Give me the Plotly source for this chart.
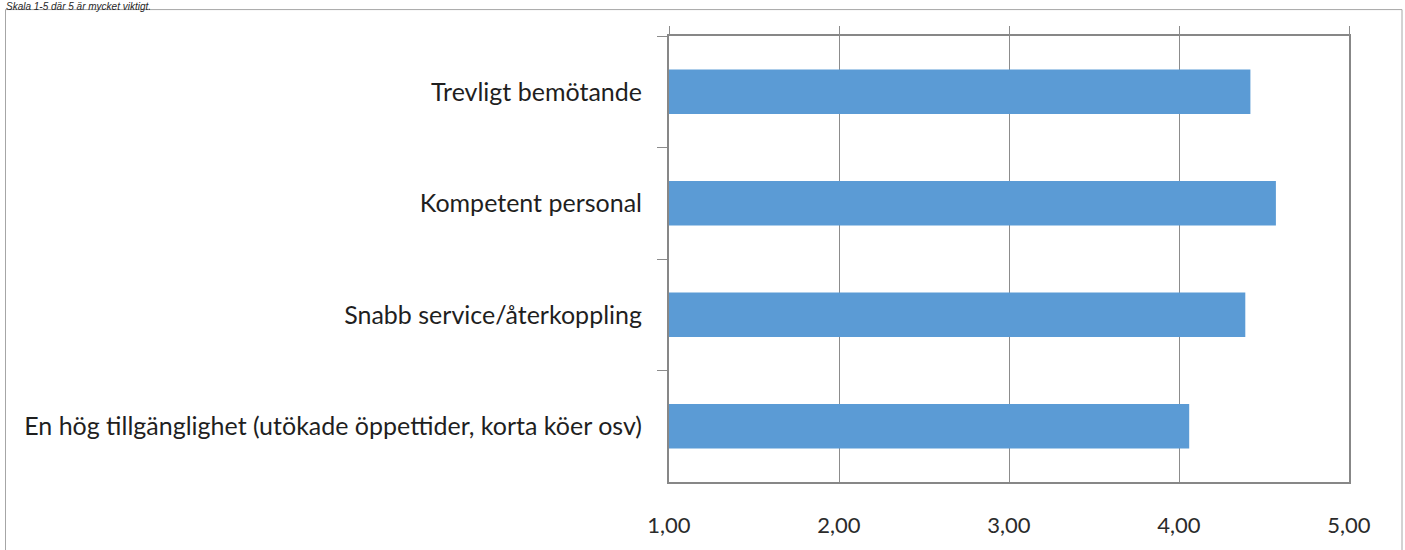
import plotly.graph_objects as go

# Data
categories = [
    "Trevligt bemötande",
    "Kompetent personal",
    "Snabb service/återkoppling",
    "En hög tillgänglighet (utökade öppettider, korta köer osv)",
]
values = [4.42, 4.57, 4.39, 4.06]
x_tickvals = [1, 2, 3, 4, 5]
x_ticktext = ["1,00", "2,00", "3,00", "4,00", "5,00"]
title_text = "Skala 1-5 där 5 är mycket viktigt."

W, H = 1405, 550
ML, MR, MT, MB = 669, 56, 36, 58
PW, PH = W - ML - MR, H - MT - MB


def px_x(px):
    return (px - ML) / PW


def px_y(py):
    return (H - MB - py) / PH


font_family = "Lato"
grid_col = "#8c8c8c"
frame_col = "#878787"

fig = go.Figure()
fig.add_trace(go.Bar(
    x=values,
    y=categories,
    orientation="h",
    marker=dict(color="#5B9BD5", line=dict(width=0)),
    hoverinfo="x+y",
    showlegend=False,
))
# invisible helper so the top tick axis is drawn
fig.add_trace(go.Scatter(
    x=values,
    y=categories,
    xaxis="x2",
    mode="markers",
    marker=dict(opacity=0),
    hoverinfo="skip",
    showlegend=False,
))

fig.update_layout(
    width=W,
    height=H,
    margin=dict(l=ML, r=MR, t=MT, b=MB, pad=0),
    paper_bgcolor="white",
    plot_bgcolor="white",
    bargap=0.6,
    font=dict(family=font_family, size=22, color="#1f1f1f"),
    xaxis=dict(
        range=[1, 5],
        tickvals=x_tickvals,
        ticktext=x_ticktext,
        showgrid=True,
        gridcolor=grid_col,
        gridwidth=1,
        ticks="",
        showline=True,
        linecolor=frame_col,
        linewidth=2,
        mirror=True,
        zeroline=False,
        ticklabelstandoff=23,
        tickfont=dict(family=font_family, size=22, color="#2b2b2b"),
    ),
    xaxis2=dict(
        overlaying="x",
        side="top",
        range=[1, 5],
        tickvals=x_tickvals,
        ticks="outside",
        ticklen=9,
        tickwidth=1,
        tickcolor=grid_col,
        showticklabels=False,
        showgrid=False,
        showline=False,
        zeroline=False,
    ),
    yaxis=dict(
        type="category",
        categoryorder="array",
        categoryarray=categories,
        autorange="reversed",
        tickson="boundaries",
        ticks="outside",
        ticklen=10,
        tickwidth=1,
        tickcolor=grid_col,
        showgrid=False,
        showline=True,
        linecolor=frame_col,
        linewidth=2,
        mirror=True,
        ticklabelstandoff=20,
        tickfont=dict(family=font_family, size=25, color="#1f1f1f"),
    ),
    shapes=[
        dict(
            type="rect",
            xref="paper",
            yref="paper",
            x0=px_x(5.5),
            x1=px_x(1402),
            y0=px_y(600),
            y1=px_y(9),
            line=dict(color="#a6a6a6", width=1),
            fillcolor="rgba(0,0,0,0)",
            layer="below",
        )
    ],
    annotations=[
        dict(
            text=title_text,
            xref="paper",
            yref="paper",
            x=px_x(5),
            y=px_y(-1),
            xanchor="left",
            yanchor="top",
            showarrow=False,
            borderpad=0,
            font=dict(family="Liberation Sans", size=10, color="#262626", style="italic"),
        )
    ],
)

fig.write_html(
    "out.html",
    config={"displayModeBar": False},
    post_script="document.body.style.margin='0';",
)
